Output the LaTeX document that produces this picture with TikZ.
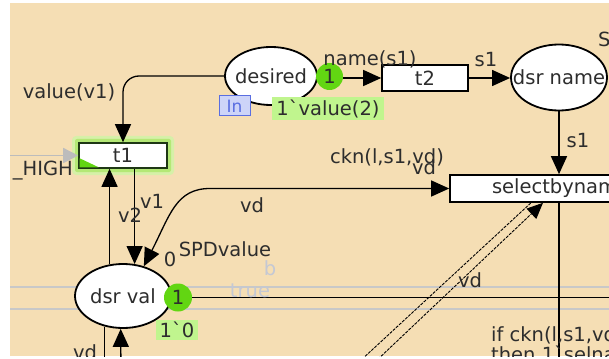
\documentclass[tikz,border=0pt]{standalone}
\usepackage{fontspec}
\setmainfont{DejaVu Sans}[Ligatures=TeXOff]
\usetikzlibrary{arrows.meta,shapes.geometric,calc}
\definecolor{canvas}{RGB}{245,222,180}
\definecolor{tokgreen}{RGB}{98,214,18}
\definecolor{labgreen}{RGB}{192,245,142}
\definecolor{guide}{RGB}{200,200,200}
\definecolor{faint}{RGB}{196,200,212}
\definecolor{inblue}{RGB}{90,110,225}
\definecolor{infill}{RGB}{205,212,248}
\definecolor{glowout}{RGB}{214,240,168}
\definecolor{glowin}{RGB}{180,232,118}
\definecolor{txt}{RGB}{45,45,45}
\definecolor{tborder}{RGB}{30,55,20}
\definecolor{inarrow}{RGB}{188,188,188}
\newcommand\netfont{\fontsize{19.5}{20}\selectfont}

\begin{document}
\begin{tikzpicture}[x=1pt,y=-1pt,
  place/.style={ellipse,draw=black,line width=1.8pt,fill=white,inner sep=0pt},
  trans/.style={rectangle,draw=black,line width=1.6pt,fill=white,inner sep=0pt,font=\netfont,text=txt},
  token/.style={circle,fill=tokgreen,inner sep=0pt,minimum size=27pt,font=\netfont,text=txt},
  marking/.style={fill=labgreen,inner xsep=4pt,inner ysep=2pt,font=\netfont,text=txt},
  lab/.style={font=\netfont,text=txt,inner sep=0pt},
  faintlab/.style={font=\netfont,text=faint,inner sep=0pt},
  arc/.style={line width=1.3pt,-{Triangle[length=18pt,width=16pt]}},
  plainarc/.style={line width=1.3pt},
  diag/.style={line width=0.9pt,dash pattern=on 3pt off 1.2pt},
]
% page and canvas
\fill[white] (0,0) rectangle (609,358);
\fill[canvas] (10,3) rectangle (609,356);
\useasboundingbox (0,0) rectangle (609,358);

\begin{scope}
\clip (10,3) rectangle (609,356);

% light guide lines across the sheet
\draw[guide,line width=2pt] (10,287) -- (609,287);
\draw[guide,line width=2pt] (10,309) -- (609,309);

% glow of the enabled transition t1
\fill[glowout,rounded corners=4pt] (72,136) rectangle (174,175);
\fill[glowin,rounded corners=2pt] (75,139) rectangle (171,172);

% places
\node[place,minimum width=92pt,minimum height=58pt,label={[lab]center:desired}] (desired) at (271,76) {};
\node[place,minimum width=96pt,minimum height=66pt,label={[lab]center:dsr name}] (dsrname) at (559,77.5) {};
\node[place,minimum width=96pt,minimum height=64pt,label={[lab]center:dsr val}] (dsrval) at (123,296) {};

% transitions
\node[trans,draw=tborder,minimum width=88pt,minimum height=25pt] (t1) at (123,155.5) {t1};
\node[trans,minimum width=86pt,minimum height=26pt] (t2) at (425,78) {t2};
\node[trans,minimum width=230pt,minimum height=27pt,text width=146pt,align=left] (sel) at (565,188.5) {selectbynam};

% enabled marker in t1
\fill[tokgreen] ($(t1.south west)+(1.5,-1.5)$) -- ++(0,-9) -- ++(19,9) -- cycle;

% free ends of arcs leaving the sheet
\coordinate (highin) at (0,155.5);
\coordinate (eastout) at (640,297.5);
\coordinate (selout) at (559,380);
\coordinate (diagA) at (359,362);
\coordinate (diagB) at (375,362);
\coordinate (botA) at (105,380);
\coordinate (botB) at (121,380);

% arcs
\draw[inarrow,line width=1.5pt,-{Triangle[length=15pt,width=15pt]}] (highin) -- (t1.west);
\draw[arc,rounded corners=16pt] (desired.west) -| (t1.north);
\draw[arc] (t2.east) -- (t2.east -| dsrname.west);
\draw[arc] (dsrname.south) -- (dsrname.south |- sel.north);
\draw[arc] (dsrval.113) -- (dsrval.113 |- t1.south);
\draw[arc] (t1.south -| dsrval.70) -- (dsrval.70);
\draw[plainarc,{Triangle[length=18pt,width=16pt]}-{Triangle[length=18pt,width=16pt]}]
  (dsrval.55) .. controls (170,215) and (176,188.5) .. (210,188.5) -- (sel.west);
\draw[plainarc] (sel.south -| dsrname.south) -- (selout);
\draw[diag] (diagA) -- ($(sel.south)+(-34,0)$);
\draw[diag,-{Triangle[length=16pt,width=14pt]}] (diagB) -- ($(sel.south)+(-22,0)$);
\draw[plainarc] (dsrval.239) -- (dsrval.239 |- botA);
\draw[arc] (botB) -- (dsrval.266);

% tokens and markings
\node[token] (tok1) at (329.5,76.5) {1};
\node[token,minimum size=28pt] (tok2) at (178,297.5) {1};
\draw[arc] (tok1.east |- t2.west) -- (t2.west);
\draw[plainarc] (tok2.east) -- (eastout);
\node[marking] (mk1) at (328,108.5) {1`value(2)};
\node[marking] (mk2) at (177,330) {1`0};
\node[draw=inblue,fill=infill,line width=1pt,text=inblue,font=\fontsize{17}{17}\selectfont,
      inner xsep=2pt,inner ysep=1pt,minimum width=31pt,minimum height=20pt] (inport) at (234.5,106) {In};

% inscriptions
\node[lab] at (69,92) {value(v1)};
\node[lab] at (370,59) {name(s1)};
\node[lab] at (486,60) {s1};
\node[lab] at (578,141) {s1};
\node[lab,anchor=west] at (598,39) {S};
\node[lab,anchor=base east] at (73,175) {\_HIGH};
\node[lab] at (387,157) {ckn(l,s1,vd)};
\node[lab] at (424,167) {vd};
\node[lab] at (252,205) {vd};
\node[lab] at (152,201) {v1};
\node[lab] at (130,215) {v2};
\node[lab] at (225,249) {SPDvalue};
\node[lab] at (170,259) {0};
\node[faintlab] at (270,268) {b};
\node[faintlab] at (250,291) {true};
\node[lab] at (470,280) {vd};
\node[lab] at (85,352) {vd};
\node[lab,anchor=north west,align=left] at (491,326) {if ckn(l,s1,vd)\\then 1`selname};
\end{scope}
\end{tikzpicture}
\end{document}
